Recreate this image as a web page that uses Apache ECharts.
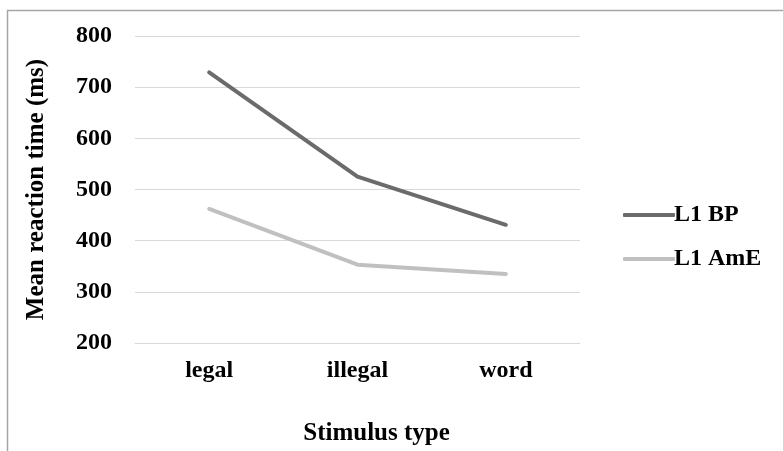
<!DOCTYPE html>
<html>
<head>
<meta charset="utf-8">
<script src="https://cdn.jsdelivr.net/npm/echarts@6/dist/echarts.min.js"></script>
<style>html,body{margin:0;padding:0;background:#fff}#c{width:783px;height:451px}</style>
</head>
<body>
<div id="c"></div>
<script>
var categories = ['legal', 'illegal', 'word'];
var seriesNames = ['L1 BP', 'L1 AmE'];
var bpValues = [729, 525, 431];
var ameValues = [462, 353, 335];
var yTicks = [200, 300, 400, 500, 600, 700, 800];

var font = '"Liberation Serif", "Times New Roman", serif';
var chart = echarts.init(document.getElementById('c'), null, {renderer: 'canvas'});
chart.setOption({
  backgroundColor: '#ffffff',
  animation: false,
  graphic: [{
    type: 'rect', left: 5, top: 8, silent: true,
    shape: {width: 900, height: 600},
    style: {fill: 'none', stroke: '#a6a6a6', lineWidth: 1.5}
  }],
  grid: {left: 135, right: 203, top: 36, bottom: 108},
  legend: {
    orient: 'vertical', left: 618, top: 198,
    icon: 'roundRect',
    itemWidth: 52, itemHeight: 4, itemGap: 20,
    textStyle: {fontFamily: font, fontWeight: 'bold', fontSize: 24, lineHeight: 24, color: '#000', padding: [0,0,0,-6]},
    data: seriesNames
  },
  xAxis: {
    type: 'category', data: categories, boundaryGap: true,
    axisLine: {show: true, lineStyle: {color: '#d9d9d9', width: 1}},
    axisTick: {show: false},
    axisLabel: {fontFamily: font, fontWeight: 'bold', fontSize: 24, color: '#000', margin: 16},
    name: 'Stimulus type', nameLocation: 'middle', nameGap: 78,
    nameTextStyle: {fontFamily: font, fontWeight: 'bold', fontSize: 25, color: '#000', padding: [0,0,0,38]}
  },
  yAxis: {
    type: 'value', min: yTicks[0], max: yTicks[yTicks.length-1], interval: 100,
    axisLine: {show: false}, axisTick: {show: false},
    splitLine: {lineStyle: {color: '#d9d9d9', width: 1}},
    axisLabel: {fontFamily: font, fontWeight: 'bold', fontSize: 24, color: '#000', margin: 23},
    name: 'Mean reaction time (ms)', nameLocation: 'middle', nameGap: 86,
    nameTextStyle: {fontFamily: font, fontWeight: 'bold', fontSize: 25, color: '#000'}
  },
  series: [
    {name: seriesNames[0], type: 'line', data: bpValues, symbol: 'none',
     lineStyle: {color: '#6b6b6b', width: 4, cap: 'round', join: 'round'}, itemStyle: {color: '#6b6b6b'}},
    {name: seriesNames[1], type: 'line', data: ameValues, symbol: 'none',
     lineStyle: {color: '#c0c0c0', width: 4, cap: 'round', join: 'round'}, itemStyle: {color: '#c0c0c0'}}
  ]
});
</script>
</body>
</html>
